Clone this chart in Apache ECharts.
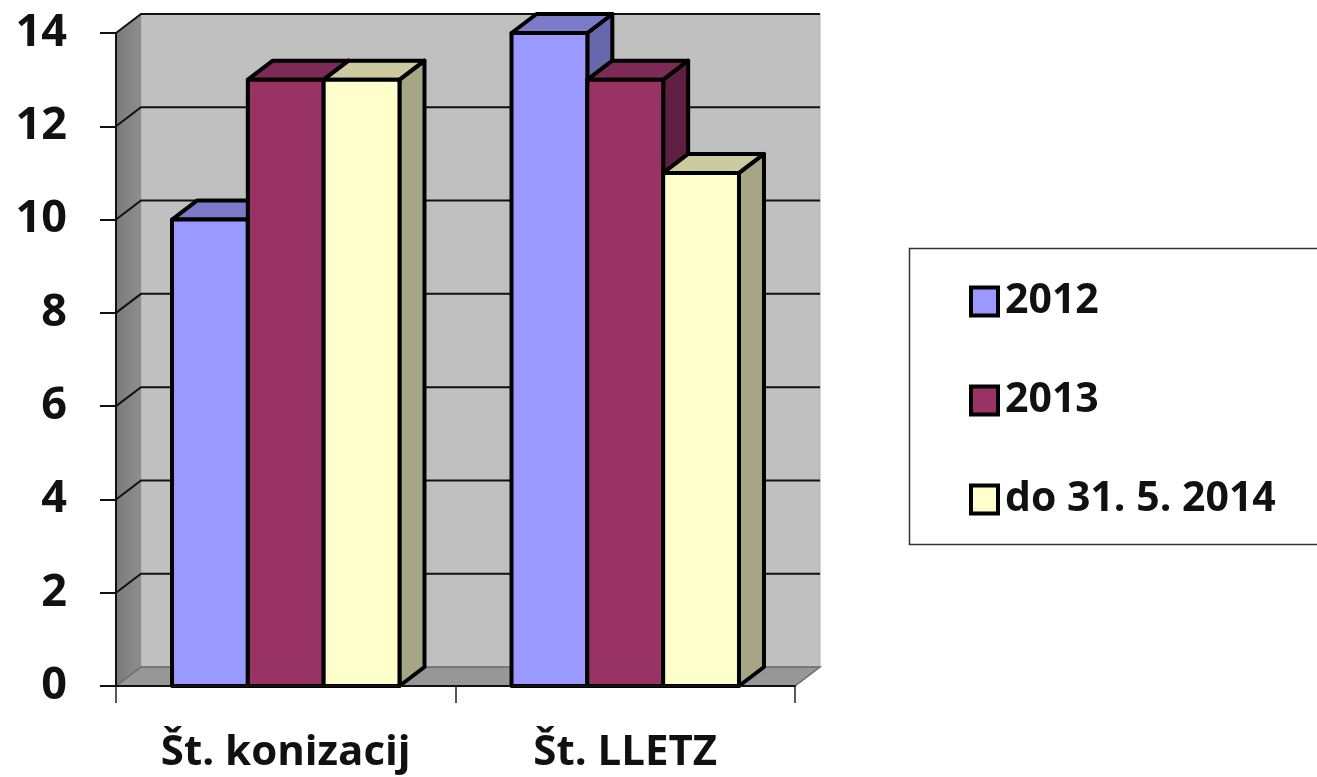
<!DOCTYPE html>
<html>
<head>
<meta charset="utf-8">
<style>
  html, body { margin: 0; padding: 0; background: #fff; }
  #chart { width: 1317px; height: 777px; }
</style>
<script src="https://cdn.jsdelivr.net/npm/echarts@6/dist/echarts.min.js"></script>
</head>
<body>
<div id="chart"></div>
<script>
// podatki
const categories = ['Št. konizacij', 'Št. LLETZ'];
const seriesNames = ['2012', '2013', 'do 31. 5. 2014'];
const values2012 = [10, 14];
const values2013 = [13, 13];
const values2014 = [13, 11];
const yTicks = [0, 2, 4, 6, 8, 10, 12, 14];

// barve: sprednja, zgornja, stranska ploskev
const faceColors = [
  ['#9999ff', '#7b7bc9', '#6767ad'],
  ['#993366', '#7e2a56', '#5f1f40'],
  ['#ffffcc', '#cbcb9f', '#a6a684']
];

// globina 3D (px)
const DX = 25, DY = -19;
const catGap = 0.33;

const myChart = echarts.init(document.getElementById('chart'));

// stene, tla in mreža zadaj
function renderWalls(params, api) {
  const cs = params.coordSys;
  const x0 = cs.x, x1 = cs.x + cs.width;
  const yb = api.coord([0, 0])[1];
  const yt = api.coord([0, yTicks[yTicks.length - 1]])[1];
  const children = [
    { type: 'polygon', shape: { points: [[x0 + DX, yt + DY], [x1 + DX, yt + DY], [x1 + DX, yb + DY], [x0 + DX, yb + DY]] },
      style: { fill: '#c0c0c0', stroke: '#b0b0b0', lineWidth: 1 } },
    { type: 'polygon', shape: { points: [[x0, yt], [x0 + DX, yt + DY], [x0 + DX, yb + DY], [x0, yb]] },
      style: { fill: new echarts.graphic.LinearGradient(0, 0, 1, 0, [
        { offset: 0, color: '#7a7a7a' }, { offset: 1, color: '#8e8e8e' }]) } },
    { type: 'polygon', shape: { points: [[x0, yb], [x1, yb], [x1 + DX, yb + DY], [x0 + DX, yb + DY]] },
      style: { fill: '#979797', stroke: '#6a6a6a', lineWidth: 1.5 } }
  ];
  yTicks.forEach(function (v) {
    if (v === 0) return;
    const y = api.coord([0, v])[1];
    children.push({ type: 'polyline', shape: { points: [[x0, y], [x0 + DX, y + DY], [x1 + DX, y + DY]] },
      style: { fill: null, stroke: '#111', lineWidth: 2 } });
  });
  return { type: 'group', children: children };
}

// 3D stolpci
function makeRender(idx) {
  return function (params, api) {
    const cat = api.value(0);
    const base = api.coord([cat, 0]);
    const top = api.coord([cat, api.value(1)]);
    const band = api.size([1, 0])[0];
    const bw = band * (1 - catGap) / seriesNames.length;
    const xa = base[0] - bw * seriesNames.length / 2 + idx * bw;
    const xb = xa + bw;
    const yt = top[1], yb = base[1];
    const c = faceColors[idx];
    const st = { stroke: '#000', lineWidth: 4, lineJoin: 'round' };
    return {
      type: 'group',
      children: [
        { type: 'polygon', shape: { points: [[xb, yt], [xb + DX, yt + DY], [xb + DX, yb + DY], [xb, yb]] },
          style: Object.assign({ fill: c[2] }, st) },
        { type: 'polygon', shape: { points: [[xa, yt], [xb, yt], [xb + DX, yt + DY], [xa + DX, yt + DY]] },
          style: Object.assign({ fill: c[1] }, st) },
        { type: 'rect', shape: { x: xa, y: yt, width: bw, height: yb - yt },
          style: Object.assign({ fill: c[0] }, st) }
      ]
    };
  };
}

const allValues = [values2012, values2013, values2014];

const barSeries = seriesNames.map(function (name, i) {
  return {
    name: name,
    type: 'custom',
    z: 3 + i,
    renderItem: makeRender(i),
    itemStyle: { color: faceColors[i][0], borderColor: '#000', borderWidth: 4 },
    encode: { x: 0, y: 1 },
    data: allValues[i].map(function (v, k) { return [k, v]; })
  };
});

const options = {
  backgroundColor: '#fff',
  animation: false,
  textStyle: { fontFamily: 'Open Sans' },
  grid: { left: 116, top: 33, width: 679, height: 653 },
  graphic: [
    { type: 'rect', z: 0, shape: { x: 909.5, y: 248.5, width: 430, height: 296 },
      style: { fill: '#fff', stroke: '#333', lineWidth: 1.5 } }
  ],
  legend: {
    z: 10,
    orient: 'vertical',
    left: 964,
    top: 276,
    itemGap: 58,
    itemWidth: 27,
    itemHeight: 28,
    icon: 'rect',
    data: seriesNames.map(function (n, i) {
      return { name: n, itemStyle: { color: faceColors[i][0], borderColor: '#000', borderWidth: 4 } };
    }),
    textStyle: { fontSize: 41, fontWeight: 'bold', color: '#111', fontFamily: 'Open Sans', padding: [0, 0, 0, 2] }
  },
  xAxis: {
    type: 'category',
    data: categories,
    z: 10,
    axisLine: { show: true, lineStyle: { color: '#111', width: 2 } },
    axisTick: { show: true, interval: 0, alignWithLabel: false, length: 17, lineStyle: { color: '#222', width: 1.5 } },
    axisLabel: { color: '#111', fontSize: 42, fontWeight: 'bold', margin: 46, fontFamily: 'Open Sans' },
    splitLine: { show: false }
  },
  yAxis: {
    type: 'value',
    min: 0,
    max: 14,
    interval: 2,
    z: 10,
    axisLine: { show: true, lineStyle: { color: '#111', width: 2 } },
    axisTick: { show: true, length: 16, lineStyle: { color: '#111', width: 2 } },
    axisLabel: { color: '#111', fontSize: 45, fontWeight: 'bold', margin: 49, fontFamily: 'Open Sans' },
    splitLine: { show: false }
  },
  series: [
    {
      name: 'walls',
      type: 'custom',
      z: 1,
      silent: true,
      renderItem: renderWalls,
      encode: { x: 0, y: 1 },
      data: [[0, 0]]
    }
  ].concat(barSeries)
};

myChart.setOption(options);
</script>
</body>
</html>
